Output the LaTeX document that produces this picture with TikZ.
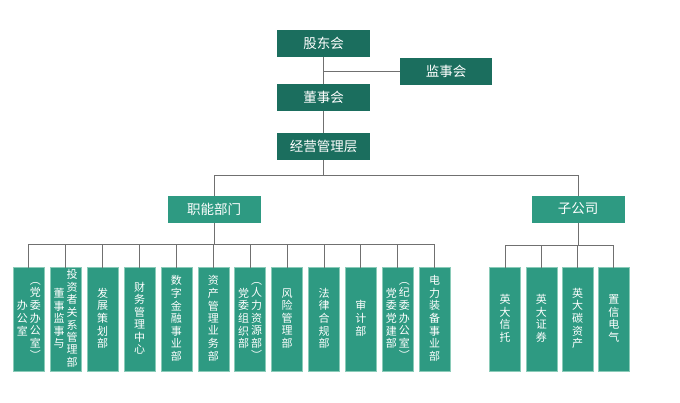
\documentclass[tikz,border=0pt]{standalone}
\usepackage{fontspec}
\setmainfont{Noto Sans CJK SC}
\definecolor{darkteal}{HTML}{1B6E5E}
\definecolor{midteal}{HTML}{2E9A82}
\definecolor{edgeteal}{HTML}{8ACBB8}
\definecolor{wiregray}{HTML}{707070}
\newcommand{\vcol}[1]{\begin{tabular}[c]{@{}c@{}}#1\end{tabular}}

\begin{document}
\begin{tikzpicture}[x=1pt,y=-1pt,
		head/.style={fill=darkteal,text=white,minimum width=93,minimum height=27,inner sep=0,outer sep=0,font=\fontsize{13.5}{13.5}\selectfont},
		branch/.style={head,fill=midteal},
		dept/.style={fill=midteal,draw=edgeteal,line width=0.6pt,text=white,minimum width=31,minimum height=104,inner sep=0,outer sep=0,font=\fontsize{11}{11.5}\selectfont},
		wire/.style={draw=wiregray,line width=0.9pt}]
	\useasboundingbox (0,0) rectangle (680,402);
	\node[head] (gdh) at (323.5,43.5) {股东会};
	\node[head,minimum width=92] (jsh) at (446,71) {监事会};
	\node[head] (dsh) at (323.5,97.5) {董事会};
	\node[head] (jyc) at (323.5,146.7) {经营管理层};
	\node[branch] (znbm) at (214,209) {职能部门};
	\node[branch] (zgs) at (578,209) {子公司};
	% departments
	\foreach \t [count=\i] in {
		{\vcol{办\\公\\室}\hspace{2pt}\vcol{︵\\党\\委\\办\\公\\室\\︶}},
		{\vcol{董\\事\\监\\事\\与}\hspace{2pt}\vcol{投\\资\\者\\关\\系\\管\\理\\部}},
		{\vcol{发\\展\\策\\划\\部}},
		{\vcol{财\\务\\管\\理\\中\\心}},
		{\vcol{数\\字\\金\\融\\事\\业\\部}},
		{\vcol{资\\产\\管\\理\\业\\务\\部}},
		{\vcol{党\\委\\组\\织\\部}\hspace{2pt}\vcol{︵\\人\\力\\资\\源\\部\\︶}},
		{\vcol{风\\险\\管\\理\\部}},
		{\vcol{法\\律\\合\\规\\部}},
		{\vcol{审\\计\\部}},
		{\vcol{党\\委\\党\\建\\部}\hspace{2pt}\vcol{︵\\纪\\委\\办\\公\\室\\︶}},
		{\vcol{电\\力\\装\\备\\事\\业\\部}}}
		\node[dept] (d\i) at ({28.8+36.9*(\i-1)},319.7) {\t};
	% subsidiaries
	\foreach \t [count=\i] in {
		{\vcol{英\\大\\信\\托}},
		{\vcol{英\\大\\证\\券}},
		{\vcol{英\\大\\碳\\资\\产}},
		{\vcol{置\\信\\电\\气}}}
		\node[dept] (s\i) at ({505+36.3*(\i-1)},319.7) {\t};
	% connectors
	\draw[wire] (gdh) -- (dsh);
	\draw[wire] (jsh.west) -- (jsh.west -| gdh.south);
	\draw[wire] (dsh) -- (jyc);
	\path (jyc.south) ++(0,15) coordinate (split);
	\draw[wire] (jyc.south) -- (split);
	\draw[wire] (split) -| (znbm.north);
	\draw[wire] (split) -| (zgs.north);
	\path (znbm.south) ++(0,22) coordinate (znbus);
	\draw[wire] (znbm.south) -- (znbus);
	\foreach \i in {1,...,12}
		\draw[wire] (znbus) -| (d\i.north);
	\path (zgs.south) ++(0,23) coordinate (zgsbus);
	\draw[wire] (zgs.south) -- (zgsbus);
	\foreach \i in {1,...,4}
		\draw[wire] (zgsbus) -| (s\i.north);
\end{tikzpicture}
\end{document}
